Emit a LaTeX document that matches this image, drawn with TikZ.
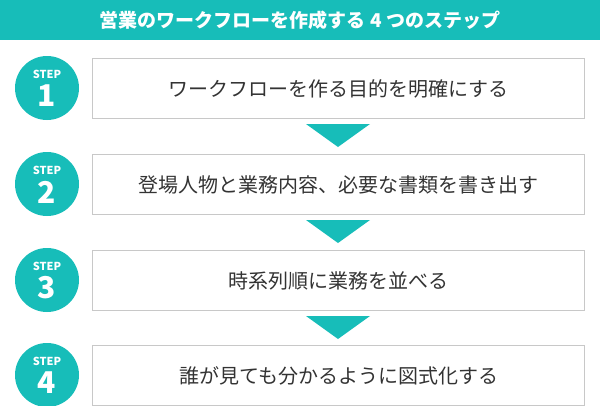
\documentclass[tikz,border=0pt]{standalone}
\usepackage{fontspec}
\setmainfont{Noto Sans CJK JP}
\definecolor{teal1}{HTML}{17BDB9}
\definecolor{gr}{HTML}{C8C8C8}
\begin{document}
\begin{tikzpicture}[x=1pt,y=-1pt,
  stepbox/.style={draw=gr,line width=1pt,minimum width=492pt,minimum height=60pt,anchor=north west,font=\fontsize{20}{24}\selectfont,text=black!80},
  circ/.style={circle,fill=teal1,minimum size=64pt,inner sep=0pt},
  tri/.style={fill=teal1}]
\useasboundingbox (0,0) rectangle (600,405);
\fill[teal1] (0,0) rectangle (600,40);
\node (title) at (300,20) {\color{white}\bfseries\fontsize{19}{22}\selectfont 営業のワークフローを作成する 4 つのステップ};
\foreach \i/\y/\t in {1/58/ワークフローを作る目的を明確にする,2/154/登場人物と業務内容、必要な書類を書き出す,3/250/時系列順に業務を並べる,4/345/誰が見ても分かるように図式化する}{
  \node[stepbox] (b\i) at (92,\y) {\t};
  \node[circ] (c\i) at (47,\y+30) {};
  \node[text=white,font=\bfseries\fontsize{11}{12}\selectfont] (s\i) at (47,\y+16) {STEP};
  \node[text=white,font=\bfseries\fontsize{30}{32}\selectfont] (n\i) at (47,\y+38) {\i};
}
\foreach \y in {124,220,316}{
  \fill[tri] (306,\y) -- (370,\y) -- (338,\y+23) -- cycle;
}
\end{tikzpicture}
\end{document}
